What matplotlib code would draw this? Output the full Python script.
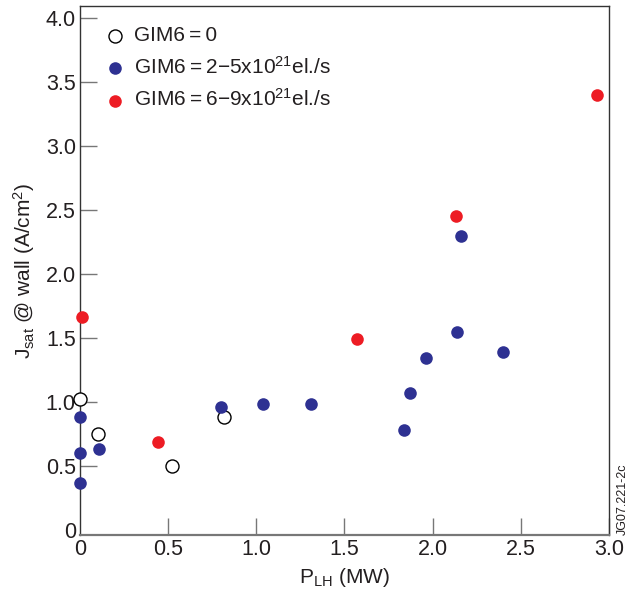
import matplotlib
matplotlib.use("Agg")
import matplotlib.pyplot as plt

plt.rcParams['font.family'] = ['Liberation Sans', 'DejaVu Sans']
plt.rcParams['mathtext.fontset'] = 'custom'
plt.rcParams['mathtext.rm'] = 'Liberation Sans'
plt.rcParams['mathtext.it'] = 'Liberation Sans'

# GIM6 = 0 (open circles)
p_zero = [0.0, 0.10, 0.52, 0.815]
j_zero = [1.02, 0.75, 0.50, 0.88]

# GIM6 = 2-5x10^21 el./s (blue)
p_mid = [0.0, 0.0, 0.0, 0.11, 0.80, 1.04, 1.31, 1.84, 1.87, 1.96, 2.14, 2.16, 2.40]
j_mid = [0.88, 0.60, 0.37, 0.63, 0.96, 0.985, 0.98, 0.78, 1.07, 1.34, 1.545, 2.30, 1.39]

# GIM6 = 6-9x10^21 el./s (red)
p_high = [0.01, 0.44, 1.57, 2.13, 2.93]
j_high = [1.665, 0.69, 1.49, 2.45, 3.40]

xticks = [0, 0.5, 1.0, 1.5, 2.0, 2.5, 3.0]
xlabels = ["0", "0.5", "1.0", "1.5", "2.0", "2.5", "3.0"]
yticks = [0, 0.5, 1.0, 1.5, 2.0, 2.5, 3.0, 3.5, 4.0]
ylabels = ["0", "0.5", "1.0", "1.5", "2.0", "2.5", "3.0", "3.5", "4.0"]

blue = "#2e3192"
red = "#ed1c24"
ink = "#231f20"

fig = plt.figure(figsize=(6.36, 5.92), dpi=100)
ax = fig.add_axes([0.1258, 0.0963, 0.8317, 0.8936])

ax.scatter(p_zero, j_zero, s=88, facecolors="white", edgecolors="black",
           linewidths=1.0, zorder=3, clip_on=False, label="GIM6\u2009=\u20090")
ax.scatter(p_mid, j_mid, s=82, color=blue, linewidths=0, zorder=3,
           clip_on=False, label="GIM6\u2009=\u20092\u22125x10$^{21}$el./s")
ax.scatter(p_high, j_high, s=82, color=red, linewidths=0, zorder=3,
           clip_on=False, label="GIM6\u2009=\u20096\u22129x10$^{21}$el./s")

ax.set_xlim(0, 3.0)
ax.set_ylim(-0.04, 4.094)
ax.set_xticks(xticks)
ax.set_xticklabels(xlabels)
ax.set_yticks(yticks)
ax.set_yticklabels(ylabels)
ax.tick_params(direction="in", length=12, width=1.0, color="#777777",
               labelsize=15.5, pad=3, labelcolor=ink)
ax.yaxis.get_major_ticks()[0].tick1line.set_visible(False)
ax.xaxis.get_major_ticks()[0].tick1line.set_visible(False)
for side in ["top", "right", "left"]:
    ax.spines[side].set_color("#333333")
    ax.spines[side].set_linewidth(1.0)
ax.spines["bottom"].set_color("#777777")
ax.spines["bottom"].set_linewidth(1.6)

ax.set_xlabel("P$_{\\rm LH}$ (MW)", fontsize=15, color=ink, labelpad=4)
ax.set_ylabel("J$_{\\rm sat}$ @ wall (A/cm$^2$)", fontsize=15, color=ink,
              labelpad=6)

leg = ax.legend(loc="upper left", frameon=False, fontsize=15,
                handlelength=1.0, handletextpad=0.4,
                borderaxespad=0.0, bbox_to_anchor=(0.031, 0.977),
                labelspacing=0.5, scatterpoints=1, markerscale=1.0)
for t in leg.get_texts():
    t.set_color(ink)

fig.text(0.979, 0.097, "JG07.221-2c", rotation=90, fontsize=9,
         color=ink, ha="center", va="bottom")

fig.savefig("out.png", dpi=100)
